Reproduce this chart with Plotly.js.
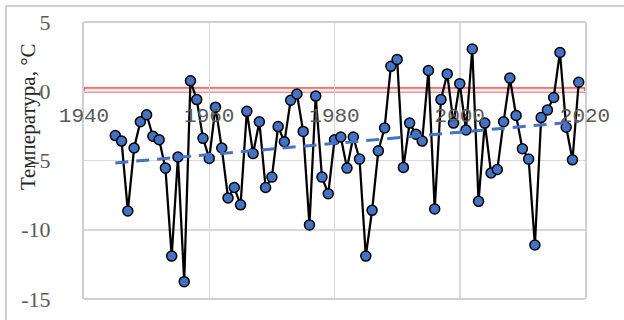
<!DOCTYPE html>
<html>
<head>
<meta charset="utf-8">
<script src="https://cdn.plot.ly/plotly-3.0.1.min.js"></script>
<style>html,body{margin:0;padding:0;background:#fff;}#chart{width:624px;height:320px;}</style>
</head>
<body>
<div id="chart"></div>
<script>
const years = [1945,1946,1947,1948,1949,1950,1951,1952,1953,1954,1955,1956,1957,1958,1959,
  1960,1961,1962,1963,1964,1965,1966,1967,1968,1969,1970,1971,1972,1973,1974,1975,1976,1977,1978,1979,
  1980,1981,1982,1983,1984,1985,1986,1987,1988,1989,1990,1991,1992,1993,1994,1995,1996,1997,1998,1999,
  2000,2001,2002,2003,2004,2005,2006,2007,2008,2009,2010,2011,2012,2013,2014,2015,2016,2017,2018,2019];
const temps = [-3.2,-3.6,-8.65,-4.1,-2.2,-1.7,-3.25,-3.5,-5.55,-11.9,-4.75,-13.75,0.75,-0.6,-3.4,
  -4.85,-1.15,-4.1,-7.7,-6.95,-8.2,-1.45,-4.5,-2.2,-6.95,-6.2,-2.55,-3.65,-0.65,-0.2,-2.9,-9.65,-0.35,-6.2,-7.4,
  -3.5,-3.3,-5.55,-3.3,-4.9,-11.9,-8.6,-4.3,-2.65,1.8,2.3,-5.5,-2.3,-3.1,-3.6,1.5,-8.5,-0.6,1.25,-2.3,
  0.55,-2.8,3.05,-7.95,-2.3,-5.9,-5.65,-2.2,0.95,-1.75,-4.15,-4.9,-11.1,-1.9,-1.35,-0.45,2.8,-2.6,-4.95,0.65];
const xTicks = [1940,1960,1980,2000,2020];
const yTicks = [5,0,-5,-10,-15];
const yTitle = 'Температура, °C';

// Linear trend (least squares), as a spreadsheet trendline
const n = years.length;
const mx = years.reduce((a,b)=>a+b,0)/n;
const my = temps.reduce((a,b)=>a+b,0)/n;
let sxy=0, sxx=0;
for (let i=0;i<n;i++){ sxy += (years[i]-mx)*(temps[i]-my); sxx += (years[i]-mx)*(years[i]-mx); }
const slope = sxy/sxx, icpt = my - slope*mx;
const trendX = [years[0], years[n-1]];
const trendY = trendX.map(x => icpt + slope*x);

const data = [
  {x: years, y: temps, type:'scatter', mode:'lines+markers',
   line:{color:'#000000', width:2.25},
   marker:{size:10, color:'#4472C4', line:{color:'#000000', width:1.5}},
   hoverinfo:'skip', showlegend:false},
  {x: trendX, y: trendY, type:'scatter', mode:'lines',
   line:{color:'#4472C4', width:3, dash:'13px,8px'}, hoverinfo:'skip', showlegend:false}
];

const layout = {
  width:624, height:320,
  margin:{l:84, r:39, t:22, b:21, pad:0},
  paper_bgcolor:'#ffffff', plot_bgcolor:'#ffffff',
  showlegend:false,
  xaxis:{range:[1940,2020], tickvals:xTicks, ticktext:xTicks.map(String),
    anchor:'free', position:0.75, showline:false, zeroline:false,
    showgrid:true, gridcolor:'#d9d9d9', gridwidth:1.5, ticks:'', ticklabelstandoff:9,
    tickfont:{family:'Liberation Mono', size:21, color:'#595959'}},
  yaxis:{range:[-15,5], tickvals:yTicks, ticktext:yTicks.map(String),
    showline:true, mirror:true, linecolor:'#d0d0d0', linewidth:2,
    zeroline:false, showgrid:true, gridcolor:'#d9d9d9', gridwidth:1.5,
    ticks:'', ticklabelstandoff:27,
    tickfont:{family:'Liberation Serif', size:22, color:'#595959'}},
  shapes:[
    {type:'rect', xref:'paper', yref:'paper', x0:-0.1557, x1:1.1, y0:-0.2, y1:1.058,
     line:{color:'#d0d0d0', width:2}, fillcolor:'rgba(0,0,0,0)', layer:'above'},
    {type:'line', xref:'paper', yref:'paper', x0:0, x1:1, y0:1, y1:1,
     line:{color:'#d0d0d0', width:2}, layer:'above'},
    {type:'line', xref:'paper', yref:'paper', x0:0, x1:1, y0:0, y1:0,
     line:{color:'#d0d0d0', width:2}, layer:'above'},
    {type:'rect', xref:'x', yref:'y', x0:1940, x1:2020, y0:-0.05, y1:0.24,
     line:{color:'#ff0000', width:1}, fillcolor:'#f3e6e6', layer:'below'}
  ],
  annotations:[
    {text:yTitle, xref:'paper', yref:'paper', x:-0.112, y:0.66, textangle:-90,
     showarrow:false, xanchor:'center', yanchor:'middle',
     font:{family:'Liberation Serif', size:21, color:'#262626'}}
  ]
};
Plotly.newPlot('chart', data, layout, {staticPlot:true, displayModeBar:false});
</script>
</body>
</html>
